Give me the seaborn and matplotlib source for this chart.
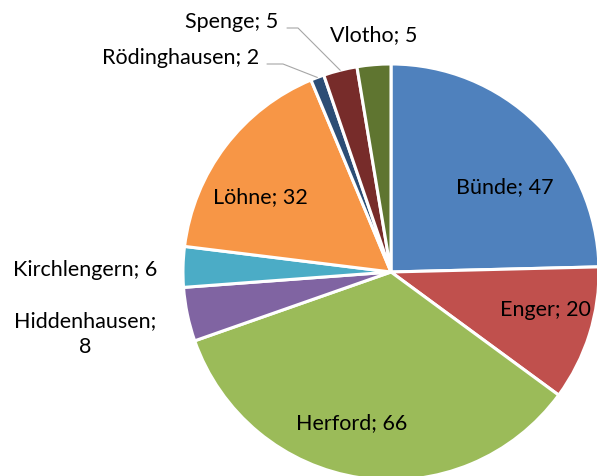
import numpy as np
import matplotlib
matplotlib.use("Agg")
import matplotlib.pyplot as plt
import seaborn as sns

orte = ['Bünde', 'Enger', 'Herford', 'Hiddenhausen', 'Kirchlengern',
        'Löhne', 'Rödinghausen', 'Spenge', 'Vlotho']
anzahl = [47, 20, 66, 8, 6, 32, 2, 5, 5]
farben = ['#4F81BD', '#C0504D', '#9BBB59', '#8064A2', '#4BACC6',
          '#F79646', '#2C4D75', '#772C2A', '#5F7530']

sns.set_style("white")
plt.rcParams['font.family'] = ['Lato', 'DejaVu Sans']

W, H = 597, 477
fig = plt.figure(figsize=(W / 100, H / 100), dpi=100)
ax = fig.add_axes([0, 0, 1, 1])

cx, cy, R = 391, H - 273, 208
wedges, _ = ax.pie(anzahl, colors=farben, startangle=90, counterclock=False,
                   explode=[0.02] * len(anzahl), center=(cx, cy), radius=R,
                   wedgeprops=dict(edgecolor='white', linewidth=2.2),
                   frame=True)
ax.set_xlim(0, W)
ax.set_ylim(0, H)
ax.axis('off')

fs = 15.5
# Beschriftungen (Pixel von oben links)
pos = {
    'Bünde': (505, 187),
    'Enger': (545, 310),
    'Herford': (352, 423),
    'Löhne': (260, 197),
    'Kirchlengern': (85, 270),
    'Hiddenhausen': (85, 334),
    'Rödinghausen': (181, 58),
    'Spenge': (232, 22),
    'Vlotho': (374, 35),
}
for name, val in zip(orte, anzahl):
    x, y = pos[name]
    txt = f"{name}; {val}"
    if name == 'Hiddenhausen':
        txt = f"{name};\n{val}"
    ax.text(x, H - y, txt, ha='center', va='center', fontsize=fs,
            color='black', linespacing=1.4)

# Führungslinien für die kleinen Segmente
leader = {'Rödinghausen': (267, 283, 65), 'Spenge': (287, 298, 29)}
for w, name in zip(wedges, orte):
    if name not in leader:
        continue
    x0, xk, y0 = leader[name]
    th = np.deg2rad((w.theta1 + w.theta2) / 2)
    wx, wy = w.center
    tx = wx + w.r * np.cos(th)
    ty = wy + w.r * np.sin(th)
    ax.plot([x0, xk, tx], [H - y0, H - y0, ty], color='#A6A6A6', lw=0.8)

plt.savefig('out.png', dpi=100)
